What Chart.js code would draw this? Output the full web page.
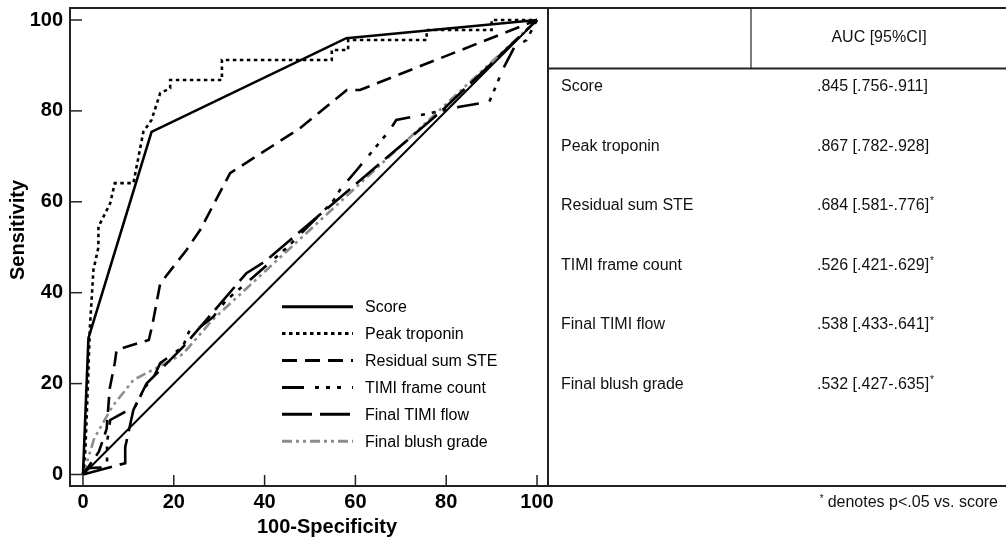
<!DOCTYPE html>
<html><head><meta charset="utf-8">
<script src="https://cdn.jsdelivr.net/npm/chart.js@4.4.0/dist/chart.umd.min.js"></script>
<style>html,body{margin:0;padding:0;background:#fff}#wrap{width:1006px;height:547px;position:relative}</style>
</head><body><div id="wrap"><canvas id="c" width="1006" height="547"></canvas></div>
<script>
const FONT = '"Liberation Sans", Arial, Helvetica, sans-serif';

// ---- data ----
const tickValues = [0, 20, 40, 60, 80, 100];
const xTitle = '100-Specificity';
const yTitle = 'Sensitivity';
const seriesNames = ['Score', 'Peak troponin', 'Residual sum STE', 'TIMI frame count', 'Final TIMI flow', 'Final blush grade'];

const scoreX = [0, 1.2, 15.1, 58, 100];
const scoreY = [0, 30, 75.4, 96, 100];

const troponinX = [0, 0.5, 1.1, 1.5, 2.3, 3.4, 3.4, 6, 7, 11.1, 13.3, 15.1, 17, 19.2, 19.2, 30.6, 30.6, 54.8, 54.8, 58.4, 58.4, 75.7, 75.7, 90, 90, 100];
const troponinY = [0, 5, 20, 32, 45, 50, 54.5, 59.7, 64.1, 64.1, 75.4, 78, 83.9, 85, 86.8, 86.8, 91.2, 91.2, 93.4, 93.4, 95.6, 95.6, 97.8, 97.8, 100, 100];

const steX = [0, 3.5, 5.2, 5.9, 7, 7.4, 14.5, 15.3, 17, 22.8, 25.8, 32.4, 47.8, 58.1, 61, 100];
const steY = [0, 5, 10, 19, 24.5, 27.4, 29.6, 33, 42, 49.4, 53.8, 66.3, 76.2, 84.6, 84.6, 100];

const frameX = [0, 1, 5.3, 5.3, 6, 11.5, 13.7, 15.5, 17, 19.5, 22, 23.5, 25, 28.7, 31.6, 36, 45, 55, 56.6, 60.3, 67.6, 69, 75, 83, 89.5, 92.6, 95, 97.7, 100];
const frameY = [0, 1.4, 1.6, 7, 12, 15, 19.3, 21.2, 24.5, 26.3, 28.1, 31.8, 31.8, 34.7, 38.4, 42.1, 50, 60, 62.6, 67, 75.8, 78, 79.2, 80.9, 82, 89.4, 94, 95.6, 100];

const flowX = [0, 9.3, 9.3, 11.1, 14, 22, 36, 40, 79, 100];
const flowY = [0, 2.5, 6, 14.2, 20, 28, 44.3, 46.8, 80, 100];

const blushX = [0, 2.5, 6.5, 11.1, 22, 28.5, 100];
const blushY = [0, 8, 15, 20.8, 26.5, 34, 100];

const refX = [0, 100];
const refY = [0, 100];

const aucValues = ['.845 [.756-.911]', '.867 [.782-.928]', '.684 [.581-.776]', '.526 [.421-.629]', '.538 [.433-.641]', '.532 [.427-.635]'];
const aucSignificant = [false, false, true, true, true, true];
const tableHeader = 'AUC [95%CI]';
const footnoteMark = '*';
const footnote = 'denotes p<.05 vs. score';

// ---- styles ----
const seriesColors = ['#000', '#000', '#000', '#000', '#000', '#8c8c8c'];
const seriesDashes = [[], [3.5, 3.5], [15, 8], [22, 11, 4, 7, 4, 7, 4, 11], [30, 8], [10, 4, 3, 4, 3, 4]];

const pts = (xs, ys) => xs.map((x, i) => ({ x: x, y: ys[i] }));
const seriesXY = [[scoreX, scoreY], [troponinX, troponinY], [steX, steY], [frameX, frameY], [flowX, flowY], [blushX, blushY]];

const datasets = [{
  label: 'reference', data: pts(refX, refY), borderColor: '#000', borderWidth: 2,
  pointRadius: 0, showLine: true, fill: false, tension: 0
}];
seriesXY.forEach((s, i) => datasets.push({
  label: seriesNames[i], data: pts(s[0], s[1]), borderColor: seriesColors[i], borderWidth: 2.6,
  borderDash: seriesDashes[i], pointRadius: 0, showLine: true, fill: false, tension: 0
}));

const overlay = {
  id: 'overlay',
  afterDraw(chart) {
    const ctx = chart.ctx, a = chart.chartArea;
    const xs = chart.scales.x, ys = chart.scales.y;
    ctx.save();
    // frame
    ctx.strokeStyle = '#222'; ctx.lineWidth = 2;
    ctx.strokeRect(a.left, a.top, a.right - a.left, a.bottom - a.top);
    // inward ticks
    ctx.lineWidth = 1.5;
    tickValues.forEach(v => {
      const px = xs.getPixelForValue(v);
      ctx.beginPath(); ctx.moveTo(px, a.bottom); ctx.lineTo(px, a.bottom - 11); ctx.stroke();
      const py = ys.getPixelForValue(v);
      ctx.beginPath(); ctx.moveTo(a.left, py); ctx.lineTo(a.left + 12, py); ctx.stroke();
    });
    // axis titles
    ctx.fillStyle = '#000';
    ctx.font = 'bold 20px ' + FONT;
    ctx.textAlign = 'center'; ctx.textBaseline = 'middle';
    ctx.fillText(xTitle, 327, 527);
    ctx.save(); ctx.translate(18, 230); ctx.rotate(-Math.PI / 2); ctx.fillText(yTitle, 0, 0); ctx.restore();
    // legend
    ctx.font = '16px ' + FONT; ctx.textAlign = 'left';
    seriesNames.forEach((n, i) => {
      const y = 306.7 + i * 26.9;
      ctx.save();
      ctx.strokeStyle = seriesColors[i]; ctx.lineWidth = 3; ctx.setLineDash(seriesDashes[i]);
      ctx.beginPath(); ctx.moveTo(282, y); ctx.lineTo(353, y); ctx.stroke();
      ctx.restore();
      ctx.fillStyle = '#000';
      ctx.fillText(n, 365, y + 1);
    });
    // table
    const tl = a.right, tr = 1006, top = a.top, hb = 68.5, bot = a.bottom;
    ctx.strokeStyle = '#222'; ctx.lineWidth = 2;
    ctx.beginPath(); ctx.moveTo(tl, top); ctx.lineTo(tr, top); ctx.stroke();
    ctx.beginPath(); ctx.moveTo(tl, hb); ctx.lineTo(tr, hb); ctx.stroke();
    ctx.beginPath(); ctx.moveTo(tl, bot); ctx.lineTo(tr, bot); ctx.stroke();
    ctx.lineWidth = 1.2;
    ctx.beginPath(); ctx.moveTo(751, top); ctx.lineTo(751, hb); ctx.stroke();
    ctx.fillStyle = '#111';
    ctx.font = '16px ' + FONT;
    ctx.textAlign = 'center';
    ctx.fillText(tableHeader, 879, 38);
    seriesNames.forEach((n, i) => {
      const y = 86.5 + i * 59.6;
      ctx.font = '16px ' + FONT;
      ctx.textAlign = 'left';
      ctx.fillText(n, 561, y);
      ctx.fillText(aucValues[i], 817, y);
      if (aucSignificant[i]) {
        const w = ctx.measureText(aucValues[i]).width;
        ctx.font = '10px ' + FONT;
        ctx.fillText(footnoteMark, 817 + w + 1, y - 4);
      }
    });
    ctx.font = '16px ' + FONT;
    ctx.textAlign = 'right';
    ctx.fillText(footnote, 998, 503);
    const fw = ctx.measureText(footnote).width;
    ctx.font = '10px ' + FONT;
    ctx.fillText(footnoteMark, 998 - fw - 4, 499);
    ctx.restore();
  }
};

const tickFont = { family: FONT, size: 20, weight: 'bold' };
new Chart(document.getElementById('c'), {
  type: 'scatter',
  data: { datasets: datasets },
  options: {
    responsive: false, animation: false, devicePixelRatio: 1,
    layout: { padding: { top: 8, right: 458, left: 0, bottom: 0 } },
    plugins: { legend: { display: false }, tooltip: { enabled: false } },
    scales: {
      x: {
        type: 'linear', min: -2.86, max: 102.42,
        afterBuildTicks: s => { s.ticks = tickValues.map(v => ({ value: v })); },
        afterFit: s => { s.height = 61; s.paddingLeft = 0; s.paddingRight = 0; },
        grid: { display: false, drawTicks: false }, border: { display: false },
        ticks: { font: tickFont, color: '#000', padding: 4, maxRotation: 0, autoSkip: false }
      },
      y: {
        type: 'linear', min: -2.53, max: 102.64,
        afterBuildTicks: s => { s.ticks = tickValues.map(v => ({ value: v })); },
        afterFit: s => { s.width = 70; s.paddingTop = 0; s.paddingBottom = 0; },
        grid: { display: false, drawTicks: false }, border: { display: false },
        ticks: { font: tickFont, color: '#000', padding: 7, autoSkip: false }
      }
    }
  },
  plugins: [overlay]
});
</script>
</body></html>
